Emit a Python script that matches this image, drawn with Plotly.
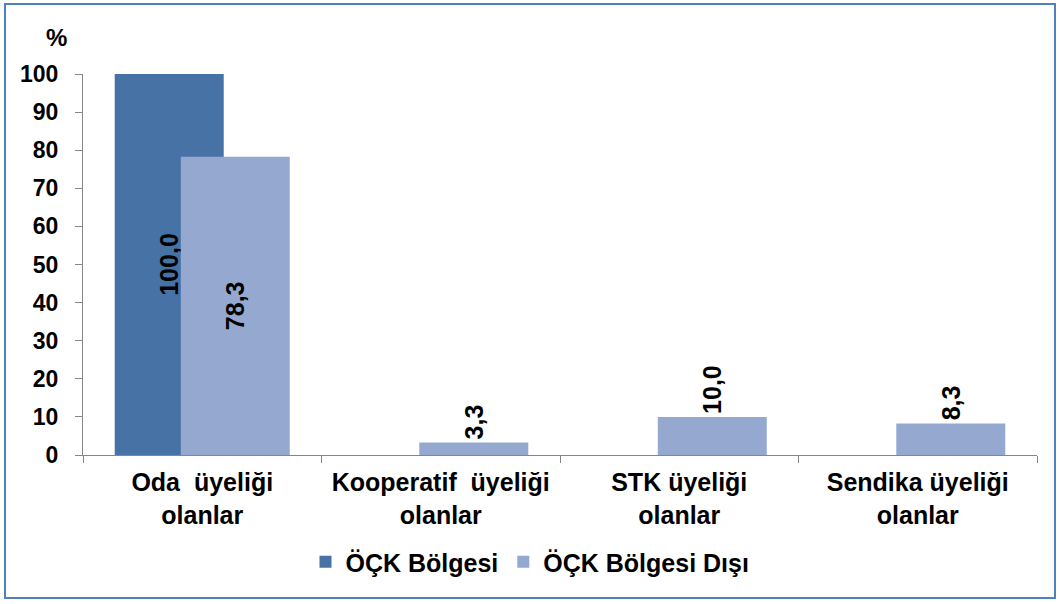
import plotly.graph_objects as go

categories = ["Oda  üyeliği<br>olanlar", "Kooperatif  üyeliği<br>olanlar",
              "STK üyeliği<br>olanlar", "Sendika üyeliği<br>olanlar"]
series_names = ["ÖÇK Bölgesi", "ÖÇK Bölgesi Dışı"]
ock_bolgesi = [100.0, None, None, None]
ock_bolgesi_disi = [78.3, 3.3, 10.0, 8.3]
y_ticks = [0, 10, 20, 30, 40, 50, 60, 70, 80, 90, 100]

DARK = "#4672A6"
LIGHT = "#95A9D0"
FONT = "Liberation Sans, Arial, sans-serif"

W, H = 1059, 604
L, R, T, B = 83, 22, 74, 149
pw, ph = W - L - R, H - T - B

fig = go.Figure()
fig.add_trace(go.Bar(
    x=categories, y=ock_bolgesi, name=series_names[0],
    marker=dict(color=DARK, line=dict(width=0)),
    width=0.457, offset=-0.367,
    texttemplate="%{y:.1f}", textposition="inside", insidetextanchor="middle",
    textangle=-90, constraintext="none",
    textfont=dict(family=FONT, size=25, color="black", weight="bold"),
    cliponaxis=False,
))
fig.add_trace(go.Bar(
    x=categories, y=ock_bolgesi_disi, name=series_names[1],
    marker=dict(color=LIGHT, line=dict(width=0)),
    width=0.457, offset=-0.09,
    texttemplate="%{y:.1f}",
    textposition=["inside", "outside", "outside", "outside"],
    insidetextanchor="middle",
    textangle=-90, constraintext="none",
    textfont=dict(family=FONT, size=25, color="black", weight="bold"),
    cliponaxis=False,
))

fig.update_layout(
    width=W, height=H,
    margin=dict(l=L, r=R, t=T, b=B, pad=0),
    barmode="overlay",
    separators=",.",
    paper_bgcolor="white", plot_bgcolor="white",
    font=dict(family=FONT, size=24, color="black", weight="bold"),
    showlegend=True,
    legend=dict(orientation="h", x=(530 - L) / pw, xanchor="center",
                y=(T + ph - 562) / ph, yanchor="middle",
                font=dict(family=FONT, size=25, color="black", weight="bold"),
                bgcolor="rgba(0,0,0,0)"),
    xaxis=dict(type="category", range=[-0.5, 3.5], showline=True, linecolor="#868686",
               linewidth=1, ticks="outside", ticklen=7, tickcolor="#868686",
               tickson="boundaries", showgrid=False, zeroline=False,
               tickfont=dict(family=FONT, size=25, color="black", weight="bold"),
               ticklabelstandoff=5),
    yaxis=dict(range=[0, 100], tickvals=y_ticks, showline=True, linecolor="#868686",
               linewidth=1, ticks="outside", ticklen=7, tickcolor="#868686",
               showgrid=False, zeroline=False,
               tickfont=dict(family=FONT, size=23, color="black", weight="bold"),
               ticklabelstandoff=12),
    annotations=[dict(text="%", xref="paper", yref="paper",
                      x=(56 - L) / pw, y=(T + ph - 38) / ph,
                      xanchor="center", yanchor="middle", showarrow=False,
                      font=dict(family=FONT, size=24, color="black", weight="bold"))],
    shapes=[dict(type="rect", xref="paper", yref="paper",
                 x0=(5 - L) / pw, x1=(1055 - L) / pw,
                 y0=(T + ph - 598) / ph, y1=(T + ph - 4) / ph,
                 line=dict(color="#4F81BD", width=2), fillcolor="rgba(0,0,0,0)",
                 layer="below")],
)

fig.write_html("out.html", config={"displayModeBar": False},
               post_script="document.body.style.margin='0';document.body.style.overflow='hidden';")
